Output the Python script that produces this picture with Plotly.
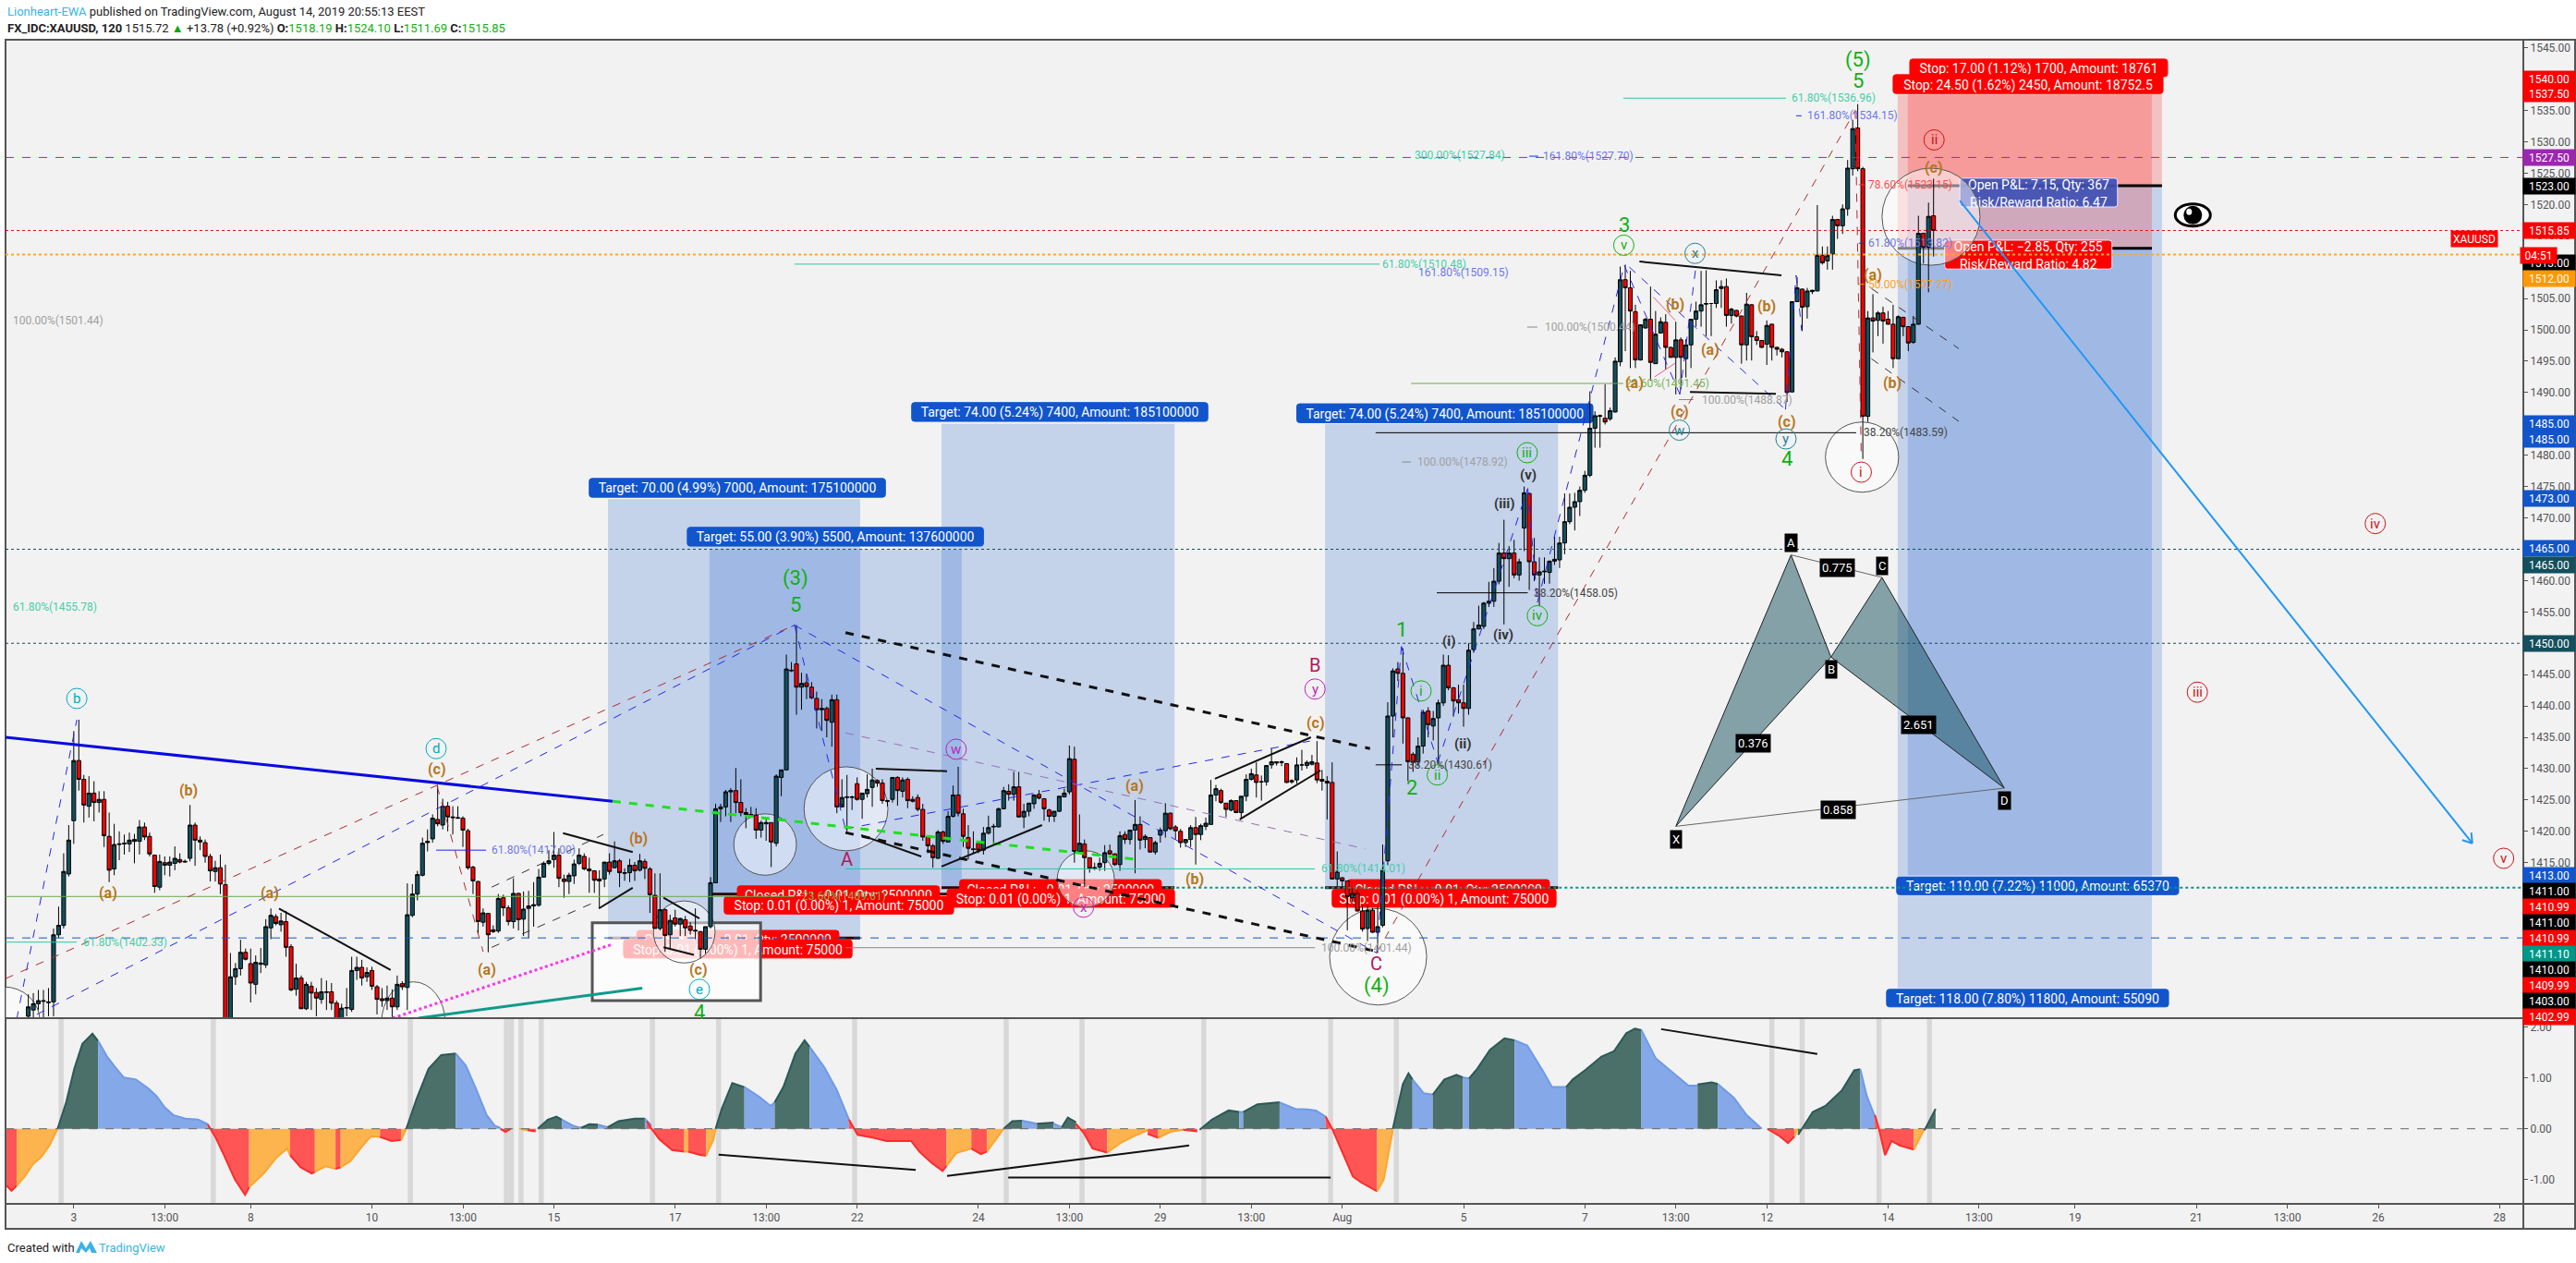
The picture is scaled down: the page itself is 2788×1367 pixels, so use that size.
import plotly.graph_objects as go

W, H = 2788, 1367

# ---------- candles (open, high, low, close) ----------
candles_jul_early = [
(1390.5,1394,1389,1392),(1391.5,1394.2,1390,1392.5),(1392.5,1394.7,1391.5,1393),(1393,1394.7,1390,1392.9),(1392.8,1395,1390.5,1392.7),
(1392.8,1404.5,1390.5,1403.5),(1403.5,1408,1403,1405),(1405,1416.5,1404.5,1413.6),(1413.2,1421,1412.8,1418.6),(1421.7,1436,1418,1431.3),
(1431.3,1437.8,1426.5,1428.3),(1428.3,1429,1421.4,1424.2),(1424,1428.8,1422.2,1426.1),(1426.1,1428,1421.6,1424.6),(1424.6,1426.4,1423,1425.1),
(1425.1,1426.4,1417.5,1419.3),(1419.2,1423,1411.9,1413.8),(1414,1421.2,1413,1417.9),(1417.9,1420,1415.4,1418),(1418,1419.5,1416.3,1418.1),
(1418,1419.8,1416.7,1418.6),(1418.7,1419.6,1414.9,1418.4),(1418.4,1421.8,1416.3,1420.7),(1420.7,1421.4,1418.6,1419.1),(1419.2,1419.8,1416,1416.4),
(1416.2,1416.3,1410.2,1411.2),(1411.1,1416.3,1410.6,1415.2),(1415,1416,1413,1414.6),(1414.6,1416,1412.8,1415.1),(1414.9,1417.6,1413.8,1415.7),
(1415.5,1416.5,1414.9,1415.1),(1415.1,1415.5,1415,1415.2),(1415.7,1424.2,1415.2,1421),(1421,1421.4,1414.5,1418.6),(1418.6,1419.2,1417,1418.3),
(1418.2,1418.7,1415,1416),(1416,1416.4,1412,1413.7),(1413.6,1415.3,1412,1414.2),(1414.2,1416.3,1410,1411.6),(1411.5,1414.7,1388,1389.8),
(1388,1400.6,1387,1396.8),(1396.8,1399,1395.5,1398.1),(1398.1,1402.7,1397,1400.7),(1400.7,1401.3,1399.4,1399.6),(1398.9,1401.3,1392.7,1395.8),
(1395.6,1400.2,1394,1399.1),(1399,1401.4,1397.4,1398.8),(1398.7,1406,1398.2,1404.8),(1404.6,1407.7,1402.8,1406.6),(1406.4,1406.8,1405,1405.3),
(1405.1,1407,1404,1405.7),(1405.6,1407.3,1400,1401.5),(1401.6,1402,1394.5,1394.7),(1394.8,1398.9,1393.8,1396.6),(1396.6,1397,1391.7,1391.7),
(1391.7,1396,1391.5,1395.6),(1395.3,1396,1391.5,1394.2),(1394.3,1395,1390.5,1393.4),(1393.2,1396.6,1392.5,1394.4),(1394.3,1396.2,1391.5,1394.4),
(1394.4,1395.8,1391.5,1392.6),(1392.6,1393,1389,1390),(1390,1392.5,1389,1391.8),(1391.8,1395,1390.5,1391.9),(1391.6,1400,1391.2,1397.8),
(1397.8,1400,1396.3,1398.3),(1398.3,1399.5,1395.4,1396.6),(1396.8,1398.3,1396,1397.5),(1397.8,1398.4,1394.7,1395.3),(1395.2,1395.5,1390.8,1393.2),
(1393.3,1395,1392,1393),(1393,1395.4,1391.5,1393.4),(1393.4,1394.8,1390.2,1392),(1392,1397,1391.5,1395.6),(1395.7,1396.1,1394.7,1395.2),
(1395.1,1411.7,1391.5,1406.7),(1406.6,1411.6,1406.3,1410),(1410,1413.7,1409,1413.1),(1413,1419,1412.8,1418.1),(1418.2,1420.3,1416.8,1418.4),
(1418.8,1422.7,1418.2,1422.1),(1421.9,1427.3,1420.8,1421.2),(1421,1425.2,1420.3,1424),(1424,1424.7,1420,1422.3),(1422.3,1424,1419.5,1422.2),
(1422.2,1424,1422,1422.1),(1422.1,1422.4,1417.5,1420.2),(1420.1,1420.4,1413.9,1414.2),(1414.3,1414.5,1410,1412.1),(1412,1412.1,1403.6,1405.6),
]
candles_jul_mid = [
(1405.5,1407.7,1404.8,1407),(1406.9,1407,1400.7,1403.5),(1404.3,1405,1403.8,1404),(1404.1,1410,1403.8,1409.3),(1409.4,1409.9,1406.5,1407.8),
(1407.8,1408.2,1405,1405.6),(1405.6,1412.5,1404.5,1410.1),(1410.1,1410.2,1404.2,1405.9),(1406,1410.4,1403.3,1407.6),(1407.7,1410.5,1403,1408.1),
(1408.1,1411.9,1404.8,1408.3),(1408.2,1414,1408,1412.7),(1412.7,1415.2,1412.6,1414.9),(1414.9,1417,1414.6,1415.3),(1415.5,1419.9,1414.2,1416.2),
(1416.2,1417.3,1411.1,1412.5),(1412.4,1413.1,1409.4,1412),(1412,1413.4,1410,1413),(1412.9,1415.5,1411.6,1414.8),(1414.9,1417.3,1414.6,1416.2),
(1416,1416.5,1413.8,1414),(1414,1415.8,1410.2,1413.7),(1413.7,1413.8,1410.2,1412.2),(1412.1,1413.8,1407.7,1412.4),(1412.4,1415.1,1411.1,1415.1),
(1415.1,1416.5,1413.1,1413.6),(1414.2,1418.4,1414.1,1415.3),(1415.3,1415.6,1411.1,1413.4),(1413.3,1414.1,1412.1,1413.4),(1413.4,1415.6,1411.9,1414.6),
(1414.6,1415.1,1412.1,1413.7),(1413.8,1416.4,1413.6,1415.3),(1415.2,1415.6,1412.4,1414.1),(1414,1414.3,1407,1409.9),(1409.8,1413.3,1404.5,1404.5),
(1404.5,1413.3,1404.2,1407.5),(1407.5,1407.7,1400.8,1403.4),(1403.5,1406.7,1401.4,1405.8),(1406.2,1407.5,1404.8,1405.2),(1405.2,1406.2,1403.3,1406.1),
(1405.9,1406.5,1403.3,1404.6),(1404.9,1405.5,1403.5,1404.2),(1404.1,1407.7,1402.8,1404.2),(1404,1404.1,1399.8,1401.2),(1401.2,1404.8,1400.5,1404.8),
(1404.8,1412.7,1404.5,1411.8),(1411.8,1424.4,1411.8,1423.6),(1423.6,1424.4,1421.5,1423.9),(1423.9,1426.6,1422.4,1426.3),(1426.3,1426.9,1421.5,1426.5),
(1426.5,1430.1,1422.9,1424.6),(1424.6,1428.3,1422.4,1423),(1423,1423.7,1420.5,1422.7),(1422.6,1423.9,1422.2,1422.7),(1422.6,1423.7,1418.8,1420.2),
(1420.2,1421.7,1419,1421.4),(1421.2,1421.9,1418.5,1421.4),(1421.4,1421.4,1414.3,1418.3),(1418.1,1429.1,1417.6,1428.8),(1428.6,1429.8,1425.6,1429.8),
(1429.8,1448.2,1429.8,1445.9),(1445.6,1447,1445.4,1445.7),(1446.7,1452.9,1438.6,1443),(1443,1445.3,1439.4,1443.6),(1443.7,1445.1,1441.1,1443.1),
(1443,1443.8,1441.1,1441.3),(1441.2,1442.3,1436.4,1439.4),(1439.4,1441.1,1436,1439.6),(1439.6,1439.9,1435,1437.7),(1437.4,1441.8,1433.5,1441),
(1441,1441.8,1422.9,1423.9),(1423.9,1428.3,1424.4,1425.4),(1425.4,1429,1420,1425.5),(1425.4,1425.7,1423.4,1425.5),(1427.6,1428.6,1424.9,1425.1),
(1425.1,1426.1,1422,1426.1),(1426,1429.1,1425.4,1426.7),(1427,1430,1423.9,1428.2),(1428.1,1428.3,1427.1,1427.7),(1427.7,1428.3,1424.4,1424.9),
(1424.9,1425,1424,1424.8),(1425.1,1428.6,1424.6,1428.6),(1428.6,1428.8,1424.1,1426.5),(1426.4,1428.6,1425.4,1428.2),(1428.3,1428.6,1423.7,1424.9),
(1425.1,1425.6,1424.6,1424.8),(1425.4,1425.9,1423.2,1423.5),(1423.5,1424.4,1418.5,1419.1),(1419.1,1419.2,1416.5,1417.7),(1417.7,1418,1414.2,1415.8),
(1415.7,1420.2,1415.6,1419.9),(1419.9,1420.1,1418,1418.4),(1418.3,1423.2,1418.2,1422.4),(1422.4,1427.3,1422.2,1425.8),(1425.8,1430.3,1422.4,1422.9),
]
candles_jul_late = [
(1422.8,1423.6,1417.5,1419.2),(1419,1421,1415.5,1417.3),(1417.2,1420,1416.5,1417.1),(1418.1,1418.2,1416.5,1417),(1417,1420.7,1416.3,1419.7),
(1419.7,1422.5,1419.5,1420.6),(1420.7,1421.2,1418.1,1420.8),(1420.7,1423.8,1420.7,1423.6),(1423.6,1427.1,1423.6,1426.5),(1426.4,1427.5,1424.9,1425.9),
(1425.9,1429.5,1424.9,1427.1),(1427.1,1429.5,1422.2,1422.3),(1422.3,1424.4,1420.5,1423.2),(1423.2,1424.5,1422.4,1424.5),(1424.4,1425.9,1423.6,1425.8),
(1425.9,1426.6,1425.1,1425.3),(1425.2,1425.3,1421.7,1423.6),(1423.4,1423.6,1421.5,1422.4),(1422.4,1423.2,1421.5,1423.2),(1423.2,1425.6,1423.1,1425.6),
(1425.5,1426.8,1425.4,1426.1),(1426.3,1433.7,1425.9,1431.6),(1431.5,1433.5,1415,1416.8),(1416.8,1422.7,1416.5,1418.1),(1418,1418.7,1411.1,1415.8),
(1415.8,1415.8,1413.4,1414.1),(1414.1,1415,1413.8,1414.2),(1414.3,1415.8,1413.7,1414.9),(1415,1417.8,1413.7,1416.6),(1416.9,1417.9,1416.3,1416.4),
(1416.4,1416.5,1414.5,1414.7),(1414.7,1420,1413.7,1419.3),(1419.5,1420,1418,1418.7),(1418.7,1420.2,1417.9,1420.2),(1420.2,1425,1413.3,1421.1),
(1421.1,1422.4,1417.1,1418.6),(1418.7,1419.5,1417.3,1419.2),(1419,1419,1416.6,1416.7),(1416.7,1418.5,1416.3,1418.2),(1419.4,1420.6,1418.2,1420.2),
(1420.1,1424.5,1419,1422.9),(1422.9,1423,1420.2,1420.4),(1420.7,1421,1418.7,1420.1),(1420,1420.4,1417.4,1418.2),(1418.2,1418.7,1417.5,1418.7),
(1418.7,1421,1417.5,1420.6),(1420.6,1422.3,1414.7,1419.5),(1419.5,1421.2,1418.6,1420.9),(1420.8,1422.2,1420.2,1421.3),(1421.1,1428.2,1421.1,1425.8),
(1425.8,1427.4,1424.8,1426.8),(1426.5,1426.8,1424.4,1424.6),(1424.5,1424.5,1422.3,1423.5),(1423.4,1425.1,1423.2,1424.9),(1424.9,1424.9,1422.9,1423),
(1423,1425.6,1421.9,1425.6),(1425.6,1429.1,1424.8,1428.3),(1428.3,1430,1428.1,1429.2),(1429,1431,1425.4,1427.8),(1427.9,1428.9,1424.9,1427.9),
(1427.9,1430.5,1427.3,1430.5),(1430.6,1433.2,1430,1431.1),(1431.1,1431.1,1430.5,1430.9),(1431.1,1431.3,1430.4,1431),(1430.8,1430.9,1427.7,1427.8),
(1428.1,1428.3,1427.6,1427.9),(1428.2,1431.8,1427.6,1430.6),(1430.6,1433,1429.7,1430.6),(1430.5,1431.3,1430,1431),(1430.7,1432.2,1430.5,1431.1),
(1430.9,1434.4,1427.7,1428.2),(1428.3,1429.8,1426.5,1428),(1428,1428.8,1421.9,1427.7),(1427.8,1431,1412.4,1412.4),(1412.4,1416.8,1411.1,1413.6),
(1412.6,1412.7,1411.1,1412.1),(1412.1,1412.1,1404.2,1409.6),(1409.4,1410.9,1408.7,1410.1),(1410.1,1410.6,1407.2,1407.3),(1407.3,1408.2,1404,1404.4),
(1404.5,1408.2,1402.5,1407.4),(1407.4,1407.8,1403.8,1403.9),(1403.9,1408,1400.6,1404.8),(1405,1417.9,1404.7,1413.8),(1415.3,1440.6,1414.6,1438.4),
]
candles_aug_rise = [
(1438.4,1446,1435,1445.6),(1445.9,1447,1444,1445.2),(1445.2,1449.2,1434,1438.1),(1438.1,1438.2,1428,1431.1),(1432.3,1432.6,1429.5,1431),
(1431.1,1435,1430.4,1433.6),(1433.6,1439.4,1432.4,1439),(1439.2,1439.8,1435,1437),(1436.8,1439.2,1434.5,1438),(1438.1,1441,1430.6,1440.5),
(1440.5,1448.2,1440,1446.5),(1446.5,1448.1,1442.5,1442.9),(1442.9,1443,1438.3,1440.8),(1441,1443.4,1438.8,1440.5),(1440.5,1443.4,1436.7,1439.6),
(1439.6,1450,1438.6,1448.9),(1449,1453.4,1448.5,1452.3),(1452.3,1456,1452.2,1452.9),(1452.7,1456.6,1452.3,1456.4),(1456.4,1459.8,1455.8,1456.7),
(1456.7,1462,1455.8,1459.9),(1459.9,1466,1459.4,1464.4),(1464.4,1469.7,1453,1463.5),(1463.5,1465.5,1459,1464.4),(1464.4,1466.5,1460.4,1460.9),
(1460.9,1463.5,1460,1463),(1468.4,1475,1464.7,1474),(1473.9,1474,1458.5,1463),(1463,1466.8,1459.9,1460.9),(1460.9,1463.7,1456,1461.4),
(1461.4,1463.7,1459.5,1461.5),(1461.3,1463.2,1459.5,1463.1),(1463.1,1467,1462.5,1463.4),(1463.3,1467,1462,1466),(1466,1473.9,1464.2,1469.4),
(1469.4,1473.9,1469,1471.7),(1471.7,1474,1468,1472.6),(1472.6,1475,1470.3,1474.4),(1474.4,1477.5,1474,1476.8),(1476.8,1490.2,1476.5,1484.3),
(1484.3,1487,1481.2,1486.3),(1486.2,1486.5,1481.2,1486.3),(1485.9,1491.3,1484.9,1485.3),(1485.8,1487.6,1485.5,1487.1),
]
candles_aug_top = [
(1486.9,1495.6,1486.8,1495),(1494.9,1510.1,1494.2,1508),(1508,1510.4,1496.6,1506.7),(1506.7,1509.4,1493.9,1503),(1502.9,1504,1493.9,1495.2),
(1495.2,1500.9,1495.1,1500.8),(1500.3,1501.9,1500.2,1501.7),(1501.7,1506.9,1491.9,1494.8),(1494.6,1503,1494.6,1499.3),(1499.5,1502,1499.4,1501.3),
(1501.2,1502.5,1493.7,1497.2),(1497.2,1497.3,1495.6,1495.6),(1495.6,1501.3,1489.7,1498.4),(1498.4,1498.8,1490.5,1495.6),(1495.4,1498.5,1492.4,1497.6),
(1497.6,1501.7,1493.9,1501.7),(1501.7,1504.5,1500.5,1503),(1503,1509.4,1500.5,1504),(1504.1,1509.5,1499,1504.2),(1504.2,1504.3,1499,1504.2),
(1504.2,1507.9,1503.5,1506.4),(1506.6,1507.9,1503.5,1506.9),(1506.9,1508.2,1500.5,1502.3),(1502.3,1503.5,1501,1503.3),(1503.1,1503.2,1502,1502.2),
(1502.2,1502.3,1494.6,1497.6),(1497.6,1505.9,1495.1,1504.1),(1504,1504.1,1495.1,1498.9),(1498.9,1499.8,1497.6,1498.3),(1498.3,1498.4,1497.1,1497.2),
(1497.7,1501.5,1494.4,1500.7),(1500.9,1501,1495.1,1497.2),(1497.2,1497.3,1495.9,1496.9),(1496.9,1497.1,1495.6,1496.5),(1496.5,1496.6,1488.5,1490),
(1490.1,1504.5,1490,1504.5),(1504.5,1508.4,1504.5,1506.7),(1506.5,1506.6,1499.8,1503.6),(1503.7,1506.7,1501.8,1506.2),(1506.1,1506.4,1505.7,1506.3),
(1506.2,1519.9,1506.2,1511.9),(1511.9,1513.3,1510.4,1510.7),(1511,1513.3,1509.6,1511.9),(1512.1,1518.2,1509.6,1517.6),(1517.6,1517.7,1514.5,1516.6),
(1516.6,1520,1515.3,1519.3),(1519.3,1527.1,1518.2,1525.8),(1525.7,1533.5,1524.6,1532.1),(1532.2,1536,1525.3,1525.7),(1525.7,1526,1479.4,1486.2),
(1486.2,1503,1485.3,1501.9),(1501.9,1505.7,1496.4,1501.4),(1501.5,1503,1499,1502.7),(1502.7,1503.7,1497.8,1501.4),(1501.7,1503,1500.8,1500.9),
(1500.9,1504,1493.9,1495.4),(1495.4,1502.3,1495.4,1502.1),(1502,1502.1,1499,1500.5),(1500.5,1500.6,1496.6,1497.9),(1498,1502.2,1497.8,1500.9),
(1500.9,1518.2,1500.8,1515.4),(1515.4,1515.5,1510.6,1513.2),(1513.2,1520.3,1506,1518.1),(1518.19,1524.10,1511.69,1515.85),
]

# ---------- oscillator (state, bars, values) ----------
oscillator = [
("red",[-4.3,-3.3,-2.3],[-1.12,-1.22,-1.12]),
("orange",[-2.3,-0.7,0.9,2.6,4.2,5.8],[-1.12,-0.94,-0.70,-0.55,-0.33,0]),
("dark",[5.8,7.5,9.1,10.7,12.7,13.8],[0,0.52,1.18,1.67,1.87,1.73]),
("blue",[13.8,15.6,17.2,18.9,21.3,23.8,25.4,27,28.7,31.1,33.6,35.5],[1.73,1.42,1.21,1.01,0.97,0.79,0.64,0.42,0.27,0.2,0.18,0.09]),
("red",[35.5,37.1,38.4,40.9,42.9,43.7],[0.09,-0.18,-0.45,-1,-1.3,-1.15]),
("orange",[43.7,46.6,49,51.2,51.8],[-1.15,-0.88,-0.58,-0.39,-0.52]),
("red",[51.8,53.9,56.1,56.7],[-0.52,-0.76,-0.88,-0.85]),
("orange",[56.7,58.8,60.8],[-0.85,-0.74,-0.79]),
("red",[60.8,61.8],[-0.79,-0.76]),
("orange",[61.8,63.7,66.2,67.8,69.6],[-0.76,-0.64,-0.33,-0.15,-0.16]),
("red",[69.6,71.9,73.8],[-0.16,-0.24,-0.22]),
("orange",[73.8,74.8],[-0.22,0]),
("dark",[74.8,76.8,79.2,81.7,84.6],[0,0.58,1.18,1.45,1.48]),
("blue",[84.6,86.6,88.7,90.7,92.3,93.4],[1.48,1.24,0.76,0.27,0.06,0.02]),
("red",[93.4,94.4,95.5],[0,-0.06,0]),
("orange",[97.2,98.8],[0,-0.03]),
("red",[98.8,100.4],[-0.03,-0.05]),
("dark",[100.8,102.8,104.5,105.6],[0,0.18,0.24,0.18]),
("blue",[105.6,107.8,109.4],[0.18,0.06,0.02]),
("dark",[109.4,111,112.7],[0.02,0.09,0.08]),
("blue",[112.7,114.6],[0.08,0.03]),
("dark",[114.6,116.8,120,122],[0.03,0.15,0.2,0.2]),
("blue",[122,123.3],[0.2,0.06]),
("red",[122.4,123.3,124.9,127.4,129.8],[0.15,0,-0.21,-0.42,-0.45]),
("orange",[129.8,130.6],[-0.45,-0.45]),
("red",[130.6,133.1,134.1],[-0.45,-0.52,-0.53]),
("orange",[134.1,135.6,136],[-0.53,-0.21,0]),
("dark",[136,137.2,139.3,141.7],[0,0.39,0.9,0.82]),
("blue",[141.7,144.5,146.9,147.7],[0.82,0.64,0.45,0.52]),
("dark",[147.7,149.4,151.8,153.6,154.6],[0.52,0.82,1.48,1.74,1.61]),
("blue",[154.6,157.5,160,162.4],[1.61,1.21,0.76,0.18]),
("red",[162.4,164.1,167.3,169.8,174.7,176.3,178.7,180.9,181.7],[0.18,-0.12,-0.18,-0.24,-0.24,-0.45,-0.67,-0.83,-0.73]),
("orange",[181.7,183.6,186.6],[-0.73,-0.48,-0.39]),
("red",[186.6,188.5,189.7],[-0.39,-0.5,-0.45]),
("orange",[189.7,191.8,193],[-0.45,-0.15,0]),
("dark",[193,194.7,196.7],[0,0.15,0.16]),
("blue",[196.7,199.6],[0.16,0.1]),
("dark",[199.6,202.9],[0.1,0.12]),
("blue",[202.9,204.5],[0.1,0.03]),
("dark",[204.5,205.7,207.3],[0.03,0.22,0.13]),
("red",[207.3,208.9,210.6,213.5],[0.1,-0.09,-0.39,-0.47]),
("orange",[213.5,216.3,218.7,221.5],[-0.47,-0.27,-0.15,-0.03]),
("red",[221.5,223.6],[-0.1,-0.18]),
("orange",[223.6,226,228.5],[-0.18,-0.06,-0.02]),
("red",[228.5,231.3],[-0.02,-0.05]),
("dark",[231.8,234.2,237.5,239.6],[-0.02,0.18,0.36,0.33]),
("blue",[239.6,240.4],[0.33,0.33]),
("dark",[240.4,243.2,247.6],[0.33,0.48,0.52]),
("blue",[247.6,250.7,253.1,254.8,256.7],[0.52,0.39,0.38,0.36,0.24]),
("red",[256.7,258,259.7,262.1,263.8,266.9],[0.24,0,-0.39,-0.94,-1.06,-1.23]),
("orange",[266.9,268.2,270],[-1.23,-1,-0.03]),
("dark",[270,272,273.1,273.9],[0,0.88,1.09,0.97]),
("blue",[273.9,276.1,277.9],[0.97,0.7,0.67]),
("dark",[277.9,280.2,282.6,283.9],[0.67,0.97,1.06,1.01]),
("blue",[283.9,285.1],[1.01,0.99]),
("dark",[285.1,286.7,289.2,292.1,294.1],[0.99,1.18,1.55,1.78,1.74]),
("blue",[294.1,296.6,299.8,301.5,304.3],[1.74,1.64,1.12,0.82,0.82]),
("dark",[304.3,305.6,308,311.3,313.8,316.2,317.9,319.2],[0.82,0.97,1.15,1.42,1.53,1.88,1.97,1.94]),
("blue",[319.2,322,325.2,328.5,330.3],[1.94,1.39,1.12,0.85,0.85]),
("dark",[330.3,333.1,334.3],[0.87,0.91,0.88]),
("blue",[334.3,337.5,340,343],[0.88,0.61,0.27,0]),
("red",[344.1,346.6,348.2,349.5],[0,-0.15,-0.28,-0.15]),
("orange",[349.5,350.2],[-0.15,0]),
("dark",[350.2,353.1,355.6,358.9,361.3,362.5],[-0.12,0.33,0.45,0.76,1.15,1.17]),
("blue",[362.5,363.8,365.4],[1.17,0.64,0.24]),
("red",[365.4,366.2,367.4,368.7,370.3,373.1],[0.27,0,-0.52,-0.24,-0.33,-0.41]),
("orange",[373.1,375.2],[-0.41,0]),
("dark",[375.2,377.4],[-0.03,0.39]),
]
signal_bars = [6.5,36.6,75.6,94.6,95.6,97.5,101.5,123.5,136.6,163.5,193.5,208.5,232.6,257.7,270.7,345,351,366.2,376.2]

# ---------- axes text ----------
time_tick_bars = [9,27,44,68,86,104,128,146,164,188,206,224,242,260,284,308,326,344,368,386,405,429,447,465,489]
time_tick_text = ["3","13:00","8","10","13:00","15","17","13:00","22","24","13:00","29","13:00","Aug","5","7","13:00","12","14","13:00","19","21","13:00","26","28"]
price_ticks = list(range(1395, 1550, 5))
osc_ticks = [2, 1, 0, -1]

# ---------- horizontal levels ----------
price_levels = {"order_purple":1527.5, "last":1515.85, "order_orange":1512.0, "dot_a":1465.0, "dot_b":1450.0, "order_blue":1403.0}
order_green_level = 1411.0
order_green_from_bar = 225.0

# ---------- fibonacci levels: bar from, bar to, price ----------
fib_teal  = [(-4.5,9.6,1402.33),(161.7,254.6,1414.01),(151.6,267.4,1510.48),(315.6,347.8,1536.96)]
fib_blue  = [(80.7,90.6,1417.0),(349.8,350.9,1534.15),(362.2,363.3,1513.82),(297,298.8,1527.7)]
fib_green = [(-4.5,151.6,1409.61),(273.6,315.6,1491.45)]
fib_grey  = [(161.7,254.6,1401.44),(271.8,273.6,1478.92),(296.6,298.6,1500.44),(326.6,329.5,1488.87)]
fib_black = [(266.6,271.8,1430.61),(278.7,296.7,1458.05),(266.6,361.7,1483.59)]
fib_red   = [(362.2,363.3,1523.15)]
fib_orange= [(362.2,363.3,1507.27)]
fib_text = [
("100.00%(1501.44)",-3.4,1501.44,"grey"),("61.80%(1455.78)",-3.4,1455.8,"teal"),("61.80%(1402.33)",10.5,1402.33,"teal"),
("61.80%(1417.00)",91.3,1417.0,"blue"),("23.60%(1409.61)",152.7,1409.61,"green"),("61.80%(1414.01)",255.5,1414.01,"teal"),
("100.00%(1401.44)",255.5,1401.44,"grey"),("38.20%(1430.61)",272.7,1430.61,"black"),("38.20%(1458.05)",297.5,1458.05,"black"),
("100.00%(1478.92)",274.5,1478.92,"grey"),("61.80%(1510.48)",267.5,1510.48,"teal"),("161.80%(1509.15)",274.7,1509.15,"blue"),
("300.00%(1527.84)",274.0,1527.84,"teal"),("161.80%(1527.70)",299.4,1527.7,"blue"),("100.00%(1500.44)",299.7,1500.44,"grey"),
("23.60%(1491.45)",315.7,1491.45,"green"),("100.00%(1488.87)",330.8,1488.87,"grey"),("38.20%(1483.59)",362.8,1483.59,"black"),
("61.80%(1536.96)",348.5,1536.96,"teal"),("161.80%(1534.15)",351.6,1534.15,"blue"),("78.60%(1523.15)",363.7,1523.15,"red"),
("61.80%(1513.82)",363.7,1513.82,"blue"),("50.00%(1507.27)",363.7,1507.27,"orange"),
]

# ---------- drawings: bar0, price0, bar1, price1 ----------
wave_blue = [(-2.3,1390,9.6,1437.8),(1.7,1390.8,151.6,1452.9),(151.6,1452.9,161.7,1420.4),(161.7,1420.4,253.6,1434.4),(151.6,1452.9,266.8,1400.6),
(266.8,1400.6,271.7,1449.5),(271.7,1449.5,278.9,1431),(278.9,1431,296.7,1474.7),(296.7,1474.7,298.6,1456.5),(298.6,1456.5,315.8,1510.3),
(315.8,1510.3,326.8,1489.7),(326.8,1489.7,329.9,1509.6),(316.8,1510,347.7,1487.3),(347.7,1487.3,349.8,1508.7),(349.8,1508.7,350.9,1499.9)]
wave_red = [(-4.5,1396.5,151.6,1452.9),(266.8,1400.6,361.5,1535),(80.9,1427.2,90,1400.8),(361.5,1535,362.7,1479.4)]
channel_thick_black = [(161.7,1451.7,265.5,1433.2),(161.7,1419.8,266.5,1400.9)]
channel_purple = [(161.7,1435.7,264.6,1417.2)]
line_green_dash = [(115.6,1424.8,219.6,1415.5)]
line_blue_solid = [(-4.5,1435,115.6,1424.8)]
line_magenta = [(72.1,1390.2,115.6,1402)]
line_teal = [(77.2,1390.2,121.5,1395)]
trend_black = [(49.6,1407.7,71.7,1397.9),(105.8,1419.7,119.6,1416.7),(112.9,1407.7,119.6,1411),(125.7,1409.4,132.8,1406.1),(125.7,1401.5,131.7,1400.3),
(167.7,1430,181.8,1429.6),(164.8,1419.4,176.7,1416),(180.7,1414.4,200.6,1421),(234.8,1428.4,253.8,1435),(239.7,1421.9,255.7,1429.7),
(318.8,1510.9,346.9,1508.7),(328.8,1490.1,345.8,1489.8)]
channel_thin = [(91.7,1411.1,113.8,1419.5),(91.7,1401.5,111.8,1408.6),(364.7,1506.6,382,1497),(364.7,1495.4,382,1485.4)]
pink = [(321.6,1505.2,325.9,1501.5),(321.8,1492.5,325.9,1494.7)]
forecast = [(382.2,1520.6,483.6,1418.1),(481.6,1418.6,483.6,1418.1),(483.4,1419.8,483.6,1418.1)]
osc_trend = [(136.6,-0.51,175.6,-0.81),(181.8,-0.93,229.7,-0.33),(193.9,-0.96,257.7,-0.96),(323.1,1.96,354,1.47)]

# ---------- trade positions: bar0, bar1, price0, price1 ----------
position_blue = [(114.7,164.6,1403,1473),(134.8,184.7,1410,1465),(180.7,226.8,1411,1485),(256.6,302.7,1411,1485),(371.9,422.2,1413,1523),(369.9,420.2,1395,1513)]
position_red = [(371.9,422.2,1523,1540),(369.9,420.2,1513,1537.5)]
stop_strips = [(114.7,164.6,1403),(134.8,184.7,1410),(180.7,226.8,1411),(256.6,302.7,1411)]
entry_lines = [(371.9,422.2,1523),(369.9,420.2,1513)]
closed_labels = [(120.4,160.4,1404.2,1401.5),(140.3,180.3,1411.3,1408.5),(184.3,224.2,1412.3,1409.4),(261,301,1412.3,1409.4)]
stop_labels = [(117.8,163,1402.7,1399.8),(137.7,183.1,1409.6,1406.8),(181.8,226.8,1410.8,1407.9),(258,302.3,1410.8,1407.9)]
target_labels = [
("Target: 70.00 (4.99%) 7000, Amount: 175100000",111,169.6,1476.3,1473.3),
("Target: 55.00 (3.90%) 5500, Amount: 137600000",130.4,189,1468.5,1465.5),
("Target: 74.00 (5.24%) 7400, Amount: 185100000",174.8,233.4,1488.4,1485.4),
("Target: 74.00 (5.24%) 7400, Amount: 185100000",251,309.6,1488.2,1485.2),
("Target: 110.00 (7.22%) 11000, Amount: 65370",369.7,425.5,1412.7,1409.9),
("Target: 118.00 (7.80%) 11800, Amount: 55090",367.7,423.5,1394.8,1392),
]
short_stop_labels = [
("Stop: 17.00 (1.12%) 1700, Amount: 18761",372.3,423.3,1543.2,1540.4),
("Stop: 24.50 (1.62%) 2450, Amount: 18752.5",369,422.4,1540.7,1537.7),
]
open_pl_labels = [
("Open P&L: 7.15, Qty: 367<br>Risk/Reward Ratio: 6.47",382.2,413.4,1524.2,1519.6,"rgba(63,81,181,0.93)"),
("Open P&L: \u22122.85, Qty: 255<br>Risk/Reward Ratio: 4.82",379.2,412.3,1514.3,1509.7,"#ff0000"),
]
highlight_circles = [(-12,2.3,1395.2,1384.3),(69.9,82.5,1396,1383),(123.7,135.9,1408.9,1399),(139.6,152,1422.8,1413),(153.5,170.1,1430.3,1416.9),
(203.6,214.9,1416.9,1407.9),(257.5,276.7,1407.7,1392.3),(355.6,370.1,1485.3,1474.1),(366.8,386.2,1525.8,1510.3)]
white_box = (111.6,144.9,1405.4,1393)

# ---------- harmonic pattern ----------
pattern_names = ["X","A","B","C","D"]
pattern_bars = [326,348.8,356.7,366.8,391]
pattern_prices = [1420.8,1464.1,1447.8,1460.5,1426.9]
pattern_tags = [("X",326,1418.7),("A",348.8,1466.1),("B",356.7,1445.8),("C",366.8,1462.4),("D",391,1424.9),
("0.775",357.9,1462),("0.376",341.4,1434),("2.651",374,1437),("0.858",358.2,1423.4)]

# ---------- wave labels ----------
circled_labels = [("b",9.6,1441.2,"cyan"),("d",80.7,1433.2,"cyan"),("e",132.8,1394.8,"cyan"),("w",183.6,1433.1,"magenta"),("x",208.8,1407.9,"magenta"),("y",254.6,1442.7,"magenta"),
("i",275.6,1442.4,"green"),("ii",278.8,1429,"green"),("iii",296.6,1480.4,"green"),("iv",298.6,1454.4,"green"),("v",315.7,1513.5,"green"),
("x",329.8,1512.2,"deepteal"),("w",326.7,1484,"deepteal"),("y",347.8,1482.6,"deepteal"),
("i",362.7,1477.3,"red"),("ii",377.1,1530.3,"red"),("iii",429.2,1442.2,"red"),("iv",464.4,1469.1,"red"),("v",489.8,1415.7,"red")]
green_labels = [("(3)",151.8,1460.4),("5",151.8,1456.1),("4",132.8,1391.2),("(5)",362,1543),("5",362,1539.7),("3",315.8,1516.7),("4",347.9,1479.5),("1",271.7,1452.2),("2",273.7,1427),("(4)",266.8,1395.4)]
crimson_labels = [("A",161.9,1415.6),("B",254.6,1446.5),("C",266.8,1398.9)]
black_labels = [("(v)",296.8,1476.9),("(iii)",292,1472.3),("(i)",281,1450.3),("(ii)",283.8,1434),("(iv)",291.8,1451.4)]
brown_labels = [("(b)",31.7,1426.5),("(a)",15.8,1410.2),("(a)",47.7,1410.2),("(c)",80.8,1429.9),("(a)",90.8,1398),("(b)",120.7,1418.9),("(c)",132.7,1397.9),
("(a)",218.9,1427.3),("(b)",230.8,1412.4),("(c)",254.7,1437.3),("(a)",317.9,1491.6),("(b)",325.9,1504.1),("(c)",326.8,1487),("(a)",332.9,1496.8),
("(b)",343.9,1503.7),("(c)",347.9,1485.4),("(a)",364.9,1508.7),("(b)",368.9,1491.5),("(c)",377,1525.8)]

# ---------- price-axis badges: text, colour name ----------
axis_badges = [("1540.00","red"),("1537.50","red"),("1527.50","purple"),("1523.00","black"),("1515.85","red"),("1513.00","black"),("1512.00","orange"),
("1485.00","blue"),("1485.00","blue"),("1473.00","blue"),("1465.00","blue"),("1465.00","deep"),("1450.00","deep"),("1413.00","blue"),("1411.00","black"),
("1410.99","red"),("1411.00","black"),("1410.99","red"),("1411.10","teal"),("1410.00","black"),("1409.99","red"),("1403.00","black"),("1402.99","red")]
axis_badge_rows = [85,102,170.5,201,249.5,284,301,458,475,540,594,611,696,947,964,981,998,1015,1032,1049,1066,1083,1100]

# ==================== styles & layout ====================
C = {"red":"#ff0000","purple":"#9c27b0","black":"#000000","orange":"#ff9800","blue":"#1155cc","deep":"#134f5c","teal":"#009688"}
FIB = {"grey":"#a0a0a0","teal":"#45cfa6","blue":"#6d78e6","green":"#7cb35c","black":"#444444","red":"#ff4d4d","orange":"#ff9f1c"}
CIRC = {"cyan":"#00acc1","magenta":"#c21fc4","green":"#10b010","deepteal":"#1f8296","red":"#cc1414"}
OSC_FILL = {"dark":"#4a7069","blue":"#85a8e8","red":"#ff5555","orange":"#fdb44e"}
OSC_LINE = {"dark":"#2b5a55","blue":"#6f9ae6","red":"#ff2b2b","orange":"#ffa52e"}
FONT = "Roboto"
X_RANGE = [-4.5, 493.7]
Y_RANGE = [1390.2, 1546.28]
Y2_RANGE = [-1.478, 2.176]
PANE_L, PANE_R, PANE_T, PANE_M, PANE_B, AXIS_B, RIGHT = 6, 2731, 43, 1102, 1303, 1330, 2787
px_x = lambda p: p / W
px_y = lambda p: 1 - p / H

rows = candles_jul_early + candles_jul_mid + candles_jul_late + candles_aug_rise + candles_aug_top
bars = list(range(len(rows)))

fig = go.Figure()

tri1 = [0, 1, 2, 0]
tri2 = [2, 3, 4, 2]
for tri in (tri1, tri2):
    fig.add_trace(go.Scatter(x=[pattern_bars[i] for i in tri], y=[pattern_prices[i] for i in tri], mode="lines", fill="toself",
                             fillcolor="rgba(19,79,92,0.5)", line=dict(color="#222222", width=1), hoverinfo="skip", xaxis="x", yaxis="y"))
for a, b in ((1, 3), (0, 4)):
    fig.add_trace(go.Scatter(x=[pattern_bars[a], pattern_bars[b]], y=[pattern_prices[a], pattern_prices[b]], mode="lines",
                             line=dict(color="#666666", width=1), hoverinfo="skip", xaxis="x", yaxis="y"))

fig.add_trace(go.Candlestick(x=bars, open=[r[0] for r in rows], high=[r[1] for r in rows], low=[r[2] for r in rows], close=[r[3] for r in rows],
    increasing=dict(line=dict(color="#000000", width=1), fillcolor="#14505e"),
    decreasing=dict(line=dict(color="#000000", width=1), fillcolor="#ff0000"),
    whiskerwidth=0, hoverinfo="skip", xaxis="x", yaxis="y"))

for state, xs, ys in oscillator:
    fig.add_trace(go.Scatter(x=xs, y=ys, mode="lines", fill="tozeroy", fillcolor=OSC_FILL[state],
                             line=dict(color=OSC_LINE[state], width=2), hoverinfo="skip", xaxis="x", yaxis="y2"))

shapes = []
def seg(x0, y0, x1, y1, color, width=1, dash="solid", layer="above", yref="y"):
    shapes.append(dict(type="line", xref="x", yref=yref, x0=x0, y0=y0, x1=x1, y1=y1, layer=layer, line=dict(color=color, width=width, dash=dash)))
def box(x0, x1, y0, y1, fill, layer="below", line=None, yref="y", kind="rect"):
    shapes.append(dict(type=kind, xref="x", yref=yref, x0=x0, x1=x1, y0=y0, y1=y1, layer=layer, fillcolor=fill, line=line or dict(width=0)))
def badge(x0, x1, y0, y1, fill, text, size=14, border=None):
    rx, ry = 0.55, 0.44
    lo, hi = min(y0, y1), max(y0, y1)
    path = (f"M{x0+rx},{lo} L{x1-rx},{lo} Q{x1},{lo} {x1},{lo+ry} L{x1},{hi-ry} Q{x1},{hi} {x1-rx},{hi} "
            f"L{x0+rx},{hi} Q{x0},{hi} {x0},{hi-ry} L{x0},{lo+ry} Q{x0},{lo} {x0+rx},{lo} Z")
    shapes.append(dict(type="path", xref="x", yref="y", path=path, layer="below", fillcolor=fill,
                       line=dict(color=border or fill, width=1),
                       label=dict(text=text, font=dict(color="white", size=size, family=FONT), textposition="middle center", padding=0)))

shapes.append(dict(type="rect", xref="paper", yref="paper", x0=px_x(PANE_L), x1=px_x(RIGHT), y0=px_y(AXIS_B), y1=px_y(PANE_T), layer="below", fillcolor="#f2f2f2", line=dict(color="#555555", width=2)))

for b in signal_bars:
    box(b - 0.5, b + 0.5, Y2_RANGE[0], Y2_RANGE[1], "#d8d8d8", yref="y2")
for x0, x1, y0, y1 in position_blue:
    box(x0, x1, y0, y1, "rgba(17,85,204,0.2)")
for x0, x1, y0, y1 in position_red:
    box(x0, x1, y0, y1, "rgba(255,0,0,0.2)")
for x0, x1, y in entry_lines:
    seg(x0, y, x1, y, "#000000", 3, layer="below")
for x0, x1, y in stop_strips:
    seg(x0, y, x1, y, "#2a0505", 3, layer="below")
for (cx0, cx1, cy0, cy1), (sx0, sx1, sy0, sy1) in zip(closed_labels, stop_labels):
    badge(cx0, cx1, cy0, cy1, "#ff0000", "Closed P&L: \u22120.01, Qty: 2500000")
    badge(sx0, sx1, sy0, sy1, "#ff0000", "Stop: 0.01 (0.00%) 1, Amount: 75000")
for t, x0, x1, y0, y1 in target_labels:
    badge(x0, x1, y0, y1, "#1155cc", t)
for t, x0, x1, y0, y1 in short_stop_labels:
    badge(x0, x1, y0, y1, "#ff0000", t)
for t, x0, x1, y0, y1, col in open_pl_labels:
    badge(x0, x1, y0, y1, col, t, border="#e8e8ff")
box(white_box[0], white_box[1], white_box[2], white_box[3], "rgba(255,255,255,0.72)", line=dict(color="#555555", width=3))
for x0, x1, y0, y1 in highlight_circles:
    box(x0, x1, y0, y1, "rgba(255,255,255,0.5)", line=dict(color="#555555", width=1), kind="circle")

seg(X_RANGE[0], price_levels["order_purple"], X_RANGE[1], price_levels["order_purple"], "#a01fc0", 1, "dash")
seg(X_RANGE[0], price_levels["last"], X_RANGE[1], price_levels["last"], "#e01010", 1, "dot")
seg(X_RANGE[0], price_levels["order_orange"], X_RANGE[1], price_levels["order_orange"], "#ffa726", 2, "dot")
seg(X_RANGE[0], price_levels["dot_a"], X_RANGE[1], price_levels["dot_a"], "#134f5c", 1, "dot")
seg(X_RANGE[0], price_levels["dot_b"], X_RANGE[1], price_levels["dot_b"], "#134f5c", 1, "dot")
seg(X_RANGE[0], price_levels["order_blue"], X_RANGE[1], price_levels["order_blue"], "#1155cc", 1, "dash")
seg(order_green_from_bar, order_green_level, X_RANGE[1], order_green_level, "#009688", 2, "dot")

for x0, x1, y in fib_teal:   seg(x0, y, x1, y, "#2ec4a0", 1)
for x0, x1, y in fib_blue:   seg(x0, y, x1, y, "#2222ee", 1)
for x0, x1, y in fib_green:  seg(x0, y, x1, y, "#6aa84f", 1)
for x0, x1, y in fib_grey:   seg(x0, y, x1, y, "#888888", 1)
for x0, x1, y in fib_black:  seg(x0, y, x1, y, "#000000", 1)
for x0, x1, y in fib_red:    seg(x0, y, x1, y, "#ff3333", 1)
for x0, x1, y in fib_orange: seg(x0, y, x1, y, "#ff9800", 1)

for l in wave_blue:           seg(*l, "#2525ee", 1, "dash")
for l in wave_red:            seg(*l, "#b02a30", 1, "dash")
for l in channel_thick_black: seg(*l, "#111111", 3, "dash")
for l in channel_purple:      seg(*l, "#9a6fb5", 1, "dash")
for l in line_green_dash:     seg(*l, "#1fe01f", 3, "dash")
for l in line_blue_solid:     seg(*l, "#0a0ae0", 3)
for l in line_magenta:        seg(*l, "#ff33ee", 3, "dot")
for l in line_teal:           seg(*l, "#0f9a8c", 3)
for l in trend_black:         seg(*l, "#111111", 2)
for l in channel_thin:        seg(*l, "#333333", 1, "dash")
for l in pink:                seg(*l, "#ec5b8a", 1)
for l in forecast:            seg(*l, "#2196f3", 2)
for l in osc_trend:           seg(*l, "#111111", 2, yref="y2")
seg(X_RANGE[0], 0, X_RANGE[1], 0, "#666666", 1, "dash", yref="y2")

for t, x, y, c in circled_labels:
    shapes.append(dict(type="circle", xref="x", yref="y", xsizemode="pixel", ysizemode="pixel", xanchor=x, yanchor=y,
                       x0=-11, x1=11, y0=-11, y1=11, layer="above", line=dict(color=CIRC[c], width=1)))
eye_bar, eye_price = 428.3, 1518.3
shapes.append(dict(type="circle", xref="x", yref="y", xsizemode="pixel", ysizemode="pixel", xanchor=eye_bar, yanchor=eye_price, x0=-19, x1=19, y0=-12, y1=12, layer="above", fillcolor="#ffffff", line=dict(color="#000000", width=3)))
shapes.append(dict(type="circle", xref="x", yref="y", xsizemode="pixel", ysizemode="pixel", xanchor=eye_bar, yanchor=eye_price, x0=-10, x1=10, y0=-10, y1=10, layer="above", fillcolor="#000000", line=dict(width=0)))
shapes.append(dict(type="circle", xref="x", yref="y", xsizemode="pixel", ysizemode="pixel", xanchor=eye_bar, yanchor=eye_price, x0=-7, x1=-1, y0=0, y1=7, layer="above", fillcolor="#ffffff", line=dict(width=0)))

logo = [(82,1356),(88,1343),(93,1351),(98,1343),(105,1356),(99,1356),(97,1351),(93,1356),(88,1351),(86,1356)]
shapes.append(dict(type="path", xref="paper", yref="paper", layer="above", fillcolor="#3bb3e4", line=dict(width=0),
                   path="M" + " L".join(f"{px_x(a):.5f},{px_y(b):.5f}" for a, b in logo) + " Z"))

ann = []
def txt(t, x, y, color, size=16, anchor="center", weight=False):
    ann.append(dict(text=f"<b>{t}</b>" if weight else t, x=x, y=y, xref="x", yref="y", showarrow=False, xanchor=anchor, yanchor="middle",
                    font=dict(color=color, size=size, family=FONT)))
for t, x, y, c in fib_text:
    txt(t, x, y, FIB[c], 12, "left")
for t, x, y, c in circled_labels:
    txt(t, x, y, CIRC[c], 15)
for t, x, y in green_labels:
    txt(t, x, y, "#10b010", 22)
for t, x, y in crimson_labels:
    txt(t, x, y, "#b0185a", 20)
for t, x, y in black_labels:
    txt(t, x, y, "#333333", 15, weight=True)
for t, x, y in brown_labels:
    txt(t, x, y, "#b8761b", 16, weight=True)
for t, x, y in pattern_tags:
    ann.append(dict(text=t, x=x, y=y, xref="x", yref="y", showarrow=False, bgcolor="#000000", borderpad=2,
                    font=dict(color="white", size=13, family=FONT)))

for (t, c), row in zip(axis_badges, axis_badge_rows):
    ann.append(dict(text=t, x=px_x(2759), y=px_y(row), xref="paper", yref="paper", showarrow=False, bgcolor=C[c], width=56, height=17, borderpad=0,
                    xanchor="center", yanchor="middle", font=dict(color="white", size=12, family=FONT)))
ann.append(dict(text="XAUUSD", x=px_x(2704), y=px_y(249.5), xref="paper", yref="paper", showarrow=False, bgcolor="#ff0000", width=50, height=17, borderpad=0,
                font=dict(color="white", size=12, family=FONT)))
ann.append(dict(text="04:51", x=px_x(2767.5), y=px_y(267), xref="paper", yref="paper", showarrow=False, bgcolor="#ff0000", width=39, height=17, borderpad=0,
                font=dict(color="white", size=12, family=FONT)))

ann.append(dict(text='<span style="color:#3bb3e4">Lionheart-EWA</span> published on TradingView.com, August 14, 2019 20:55:13 EEST',
                x=px_x(6), y=px_y(13), xref="paper", yref="paper", xanchor="left", yanchor="middle", showarrow=False, font=dict(color="#222222", size=13, family=FONT)))
ann.append(dict(text='<b>FX_IDC:XAUUSD, 120</b> 1515.72 <span style="color:#0aa80a">\u25b2</span> +13.78 (+0.92%) <b>O:</b><span style="color:#12b012">1518.19</span> <b>H:</b><span style="color:#12b012">1524.10</span> <b>L:</b><span style="color:#12b012">1511.69</span> <b>C:</b><span style="color:#12b012">1515.85</span>',
                x=px_x(6), y=px_y(30), xref="paper", yref="paper", xanchor="left", yanchor="middle", showarrow=False, font=dict(color="#222222", size=13, family=FONT)))
ann.append(dict(text="Created with", x=px_x(6), y=px_y(1350), xref="paper", yref="paper", xanchor="left", yanchor="middle", showarrow=False, font=dict(color="#222222", size=13, family=FONT)))
ann.append(dict(text="TradingView", x=px_x(105), y=px_y(1350), xref="paper", yref="paper", xanchor="left", yanchor="middle", showarrow=False, font=dict(color="#3bb3e4", size=13, family=FONT)))

tick_font = dict(color="#555555", size=12, family=FONT)
fig.update_layout(
    width=W, height=H, margin=dict(l=0, r=0, t=0, b=0), autosize=False,
    paper_bgcolor="#ffffff", plot_bgcolor="#f2f2f2", showlegend=False, hovermode=False,
    font=dict(family=FONT), boxgap=0.13, boxgroupgap=0.14,
    xaxis=dict(domain=[px_x(PANE_L), px_x(PANE_R)], range=X_RANGE, anchor="y2", tickmode="array", tickvals=time_tick_bars, ticktext=time_tick_text,
               ticks="outside", ticklen=4, tickcolor="#555555", tickfont=tick_font, showgrid=False, zeroline=False, rangeslider=dict(visible=False), showline=False),
    yaxis=dict(domain=[px_y(PANE_M), px_y(PANE_T)], range=Y_RANGE, side="right", anchor="x", tickmode="array", tickvals=price_ticks, ticktext=[f"{v}.00" for v in price_ticks],
               ticks="outside", ticklen=4, tickcolor="#555555", tickfont=tick_font, showgrid=False, zeroline=False, showline=False),
    yaxis2=dict(domain=[px_y(PANE_B), px_y(PANE_M)], range=Y2_RANGE, side="right", anchor="x", tickmode="array", tickvals=osc_ticks, ticktext=[f"{v:.2f}" for v in osc_ticks],
                ticks="outside", ticklen=4, tickcolor="#555555", tickfont=tick_font, showgrid=False, zeroline=False, showline=False),
    shapes=shapes, annotations=ann,
)
for s in (
    dict(x0=PANE_L, x1=RIGHT, y0=PANE_M, y1=PANE_M), dict(x0=PANE_L, x1=RIGHT, y0=PANE_B, y1=PANE_B),
    dict(x0=PANE_R, x1=PANE_R, y0=PANE_T, y1=AXIS_B)):
    fig.add_shape(type="line", xref="paper", yref="paper", x0=px_x(s["x0"]), x1=px_x(s["x1"]), y0=px_y(s["y0"]), y1=px_y(s["y1"]), layer="above", line=dict(color="#555555", width=2))

fig.write_html("out.html", config={"displayModeBar": False}, post_script="document.body.style.margin='0';document.body.style.overflow='hidden';")
